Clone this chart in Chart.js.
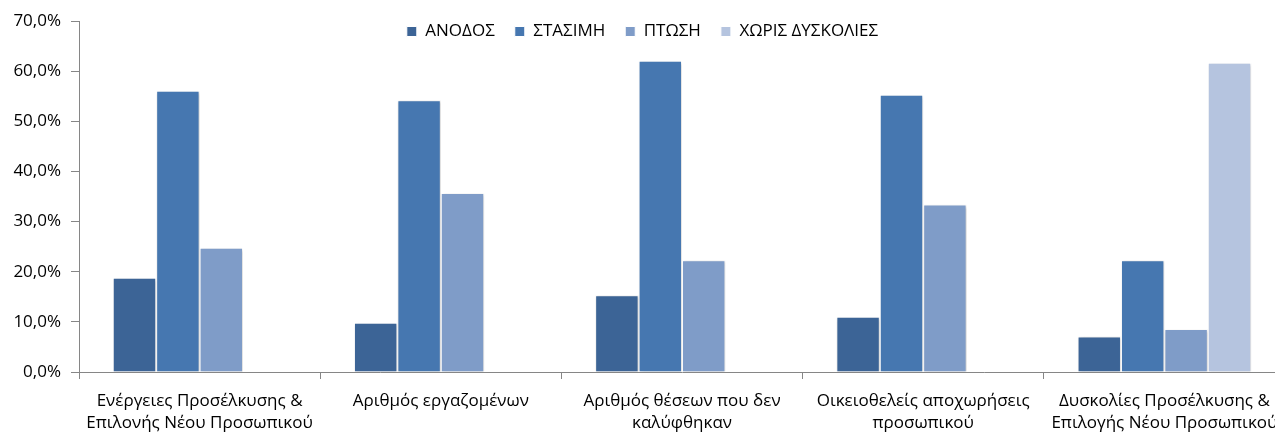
<!DOCTYPE html>
<html>
<head>
<meta charset="utf-8">
<script src="https://cdn.jsdelivr.net/npm/chart.js@4"></script>
<style>
  html, body { margin: 0; padding: 0; background: #fff; overflow: hidden; }
  canvas { display: block; }
</style>
</head>
<body>
<canvas id="chart" width="1300" height="434"></canvas>
<script>
// Categories (x axis), two lines each
const categories = [
  ["Ενέργειες Προσέλκυσης &", "Επιλονής Νέου Προσωπικού"],
  ["Αριθμός εργαζομένων"],
  ["Αριθμός θέσεων που δεν", "καλύφθηκαν"],
  ["Οικειοθελείς αποχωρήσεις", "προσωπικού"],
  ["Δυσκολίες Προσέλκυσης &", "Επιλογής Νέου Προσωπικού"]
];

const seriesNames = ["ΑΝΟΔΟΣ", "ΣΤΑΣΙΜΗ", "ΠΤΩΣΗ", "ΧΩΡΙΣ ΔΥΣΚΟΛΙΕΣ"];

// values in %
const anodos   = [18.8, 9.8, 15.3, 11.0, 7.1];
const stasimi  = [56.1, 54.2, 62.1, 55.3, 22.3];
const ptosi    = [24.8, 35.7, 22.3, 33.4, 8.6];
const xoris    = [null, null, null, null, 61.7];

const colors = ["#3c6496", "#4677b0", "#7f9cc8", "#b5c4df"];

const yTicks = [0, 10, 20, 30, 40, 50, 60, 70];

const axisColor = "#868686";
const font = { family: "Open Sans", size: 17, lineHeight: 1.3 };

// soft drop shadow behind the bars
const barShadow = {
  id: "barShadow",
  beforeDatasetsDraw(chart) {
    const ctx = chart.ctx;
    ctx.save();
    ctx.shadowColor = "rgba(0,0,0,0.22)";
    ctx.shadowBlur = 3;
    ctx.shadowOffsetX = 1;
    ctx.shadowOffsetY = 1;
  },
  afterDatasetsDraw(chart) {
    chart.ctx.restore();
  }
};

// legend sits inside the top of the plot, so let it overlap the chart area
const legendOverlap = {
  id: "legendOverlap",
  afterLayout(chart) {
    const l = chart.legend;
    l.top = 3;
    l.bottom = 60;
    l.height = 57;
  }
};

const ctx = document.getElementById("chart").getContext("2d");

new Chart(ctx, {
  type: "bar",
  data: {
    labels: categories,
    datasets: [anodos, stasimi, ptosi, xoris].map((d, i) => ({
      label: seriesNames[i],
      data: d,
      backgroundColor: colors[i],
      borderColor: "#ffffff",
      borderWidth: 1,
      categoryPercentage: 0.72,
      barPercentage: 1.0
    }))
  },
  options: {
    responsive: false,
    animation: false,
    layout: { padding: { top: 0, right: 15, left: 0, bottom: 0 } },
    plugins: {
      tooltip: { enabled: false },
      legend: {
        position: "top",
        maxHeight: 20,
        labels: {
          color: "#000",
          font: { family: "Open Sans", size: 17 },
          boxWidth: 10,
          boxHeight: 10,
          padding: 20
        }
      }
    },
    scales: {
      x: {
        grid: { drawOnChartArea: false, drawTicks: true, tickLength: 7, color: axisColor },
        border: { color: axisColor },
        ticks: { color: "#000", font: font, padding: 11, maxRotation: 0, autoSkip: false },
        afterFit(scale) { scale.height = 62; }
      },
      y: {
        min: 0,
        max: 70,
        grid: { drawOnChartArea: false, drawTicks: true, tickLength: 8, color: axisColor },
        border: { color: axisColor },
        afterBuildTicks(scale) {
          scale.ticks = yTicks.map(v => ({ value: v }));
        },
        ticks: {
          color: "#000",
          font: font,
          padding: 10,
          callback: v => v.toFixed(1).replace(".", ",") + "%"
        },
        afterFit(scale) { scale.width = 79; }
      }
    }
  },
  plugins: [barShadow, legendOverlap]
});
</script>
</body>
</html>
